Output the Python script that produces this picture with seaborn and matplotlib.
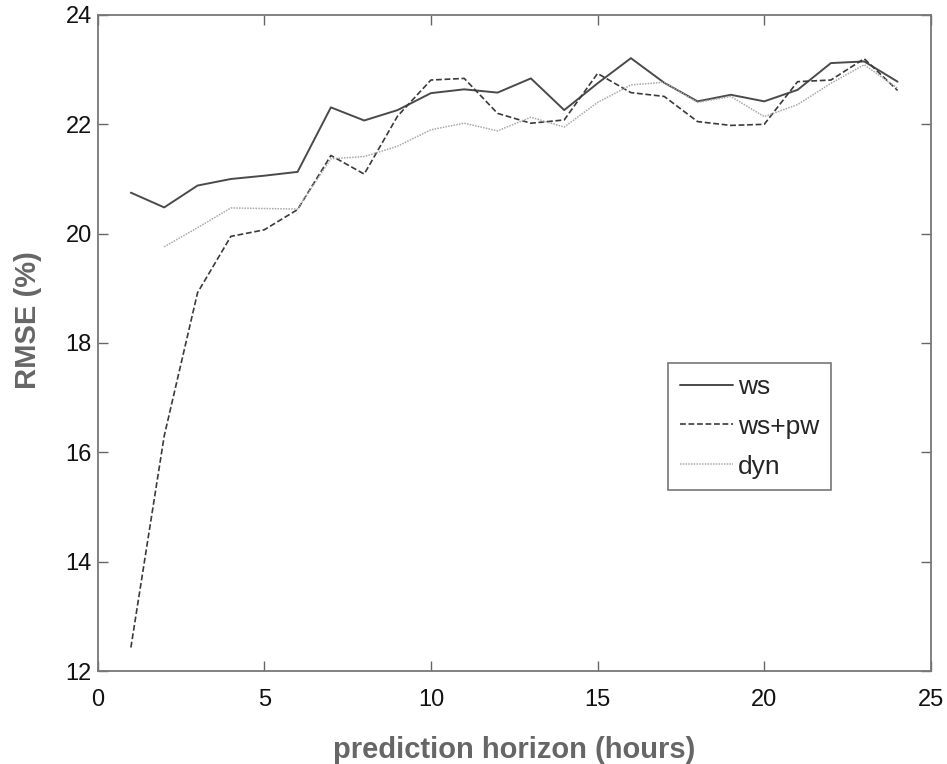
import matplotlib
matplotlib.use("Agg")
import matplotlib.pyplot as plt
import seaborn as sns
import numpy as np
import pandas as pd

hours = list(range(1, 25))
ws = [20.75, 20.48, 20.88, 21.00, 21.06, 21.13, 22.31, 22.07, 22.26, 22.57,
      22.64, 22.58, 22.84, 22.26, 22.75, 23.21, 22.76, 22.42, 22.54, 22.42,
      22.63, 23.12, 23.15, 22.78]
ws_pw = [12.43, 16.30, 18.92, 19.95, 20.07, 20.44, 21.43, 21.09, 22.15, 22.81,
         22.84, 22.20, 22.02, 22.08, 22.93, 22.58, 22.51, 22.05, 21.98, 22.00,
         22.78, 22.81, 23.20, 22.62]
dyn_hours = list(range(2, 25))
dyn = [19.76, 20.11, 20.47, 20.46, 20.45, 21.37, 21.41, 21.60, 21.90, 22.02,
       21.88, 22.13, 21.95, 22.40, 22.72, 22.77, 22.40, 22.51, 22.14, 22.36,
       22.75, 23.09, 22.66]
labels = ["ws", "ws+pw", "dyn"]
xticks = [0, 5, 10, 15, 20, 25]
yticks = [12, 14, 16, 18, 20, 22, 24]

sns.set_theme(style="white")
plt.rcParams['font.family'] = ['Liberation Sans', 'DejaVu Sans']

fig = plt.figure(figsize=(9.47, 7.64), dpi=100)
ax = fig.add_axes([0.103, 0.1217, 0.880, 0.8587])

sns.lineplot(x=hours, y=ws, ax=ax, color="#4a4a4a", lw=1.4, label=labels[0])
sns.lineplot(x=hours, y=ws_pw, ax=ax, color="#3a3a3a", lw=1.2, label=labels[1])
ax.lines[-1].set_dashes((3.5, 1.6))
sns.lineplot(x=dyn_hours, y=dyn, ax=ax, color="#a8a8a8", lw=1.1, label=labels[2])
ax.lines[-1].set_dashes((1, 0.8))

ax.set_xlim(0, 25)
ax.set_ylim(12, 24)
ax.set_xticks(xticks)
ax.set_yticks(yticks)
ax.tick_params(direction="in", length=7, width=1, color="#666666",
               labelsize=17, labelcolor="#111111", top=True, right=True,
               bottom=True, left=True, pad=4)
ax.tick_params(axis="x", pad=13)
for s in ax.spines.values():
    s.set_color("#777777")
    s.set_linewidth(1.3)

ax.set_xlabel("prediction horizon (hours)", fontsize=21, fontweight="bold",
              color="#666666", labelpad=18)
ax.set_ylabel("RMSE (%)", fontsize=21, fontweight="bold", color="#666666")
ax.yaxis.set_label_coords(-0.067, 0.535)

leg = ax.legend(loc="upper left", bbox_to_anchor=(0.6845, 0.4695), fontsize=19,
                frameon=True, fancybox=False, handlelength=2.0,
                handletextpad=0.2, borderpad=0.45, labelspacing=0.6,
                borderaxespad=0)
leg.get_frame().set_edgecolor("#555555")
leg.get_frame().set_linewidth(1.2)

fig.savefig("out.png", dpi=100)
